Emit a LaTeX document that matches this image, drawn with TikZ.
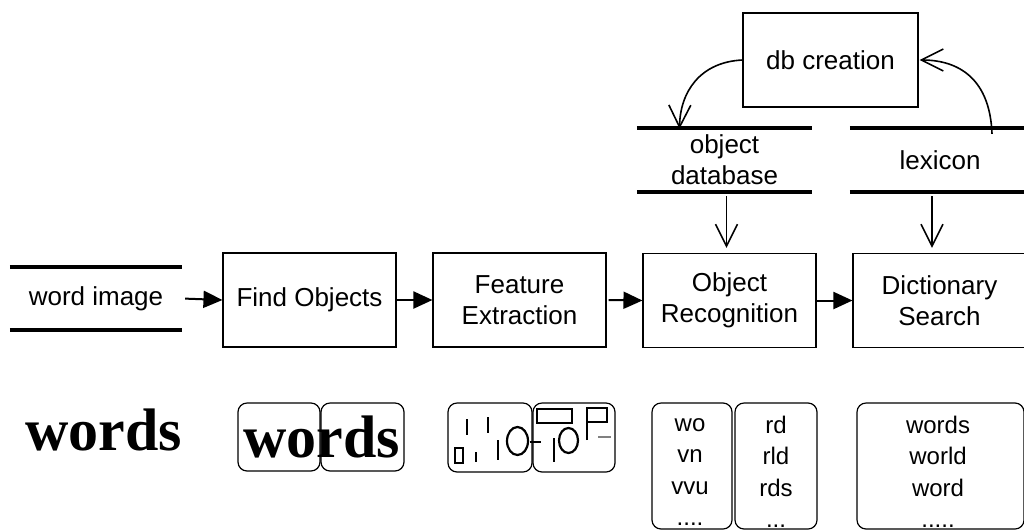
\documentclass[tikz,border=0pt]{standalone}
\usepackage{fontspec}
\setmainfont{Liberation Sans}
\newfontfamily\pixfont{Liberation Serif}
\usetikzlibrary{arrows.meta}
\begin{document}
\begin{tikzpicture}[x=1pt,y=-1pt,
  lbl/.style={font=\fontsize{26}{31}\selectfont, align=center, inner sep=0pt},
  procbox/.style={draw, line width=1.1pt, lbl},
  storebox/.style={lbl},
  storeline/.style={line width=3.5pt},
  flow/.style={line width=2pt, -{Triangle[length=19pt,width=17pt]}},
  feed/.style={line width=1.6pt, -{Straight Barb[length=22pt,width=22pt,line width=1.6pt]}},
  rbox/.style={draw, line width=1.2pt, rounded corners=9pt},
  glyph/.style={line width=2.2pt},
  pix/.style={font=\pixfont\bfseries\fontsize{60}{60}\selectfont, inner sep=0pt, anchor=base},
  cand/.style={lbl, font=\fontsize{24}{31.5}\selectfont}
]
\useasboundingbox (0,0) rectangle (1024,531);
\fill[white] (0,0) rectangle (1024,531);

% data stores
\node[storebox, minimum width=172pt, minimum height=63pt] (wi) at (96,298.5) {word image};
\node[storebox, minimum width=175pt, minimum height=64pt] (od) at (724.5,160) {object\\database};
\node[storebox, minimum width=180pt, minimum height=64pt] (lex) at (940,160) {lexicon};
\foreach \n in {wi,od,lex}{
  \draw[storeline] (\n.north west) -- (\n.north east);
  \draw[storeline] (\n.south west) -- (\n.south east);
}

% process boxes
\node[procbox, minimum width=173pt, minimum height=94pt] (fo) at (309.5,300) {Find Objects};
\node[procbox, minimum width=173pt, minimum height=94pt] (fe) at (519.5,300) {Feature\\Extraction};
\node[procbox, minimum width=173pt, minimum height=94pt] (or) at (729.5,300.5) {Object\\Recognition};
\node[procbox, minimum width=173pt, minimum height=94pt] (ds) at (939.5,300.5) {Dictionary\\Search};
\node[procbox, minimum width=175pt, minimum height=94pt] (db) at (830.5,60) {db creation};

% flow arrows
\draw[flow, shorten <=3pt] (wi.east) -- (fo.west);
\draw[flow] (fo.east) -- (fe.west);
\draw[flow, shorten <=2pt] (fe.east) -- (or.west);
\draw[flow] (or.east) -- (ds.west);
\draw[feed, shorten <=4pt, shorten >=5pt] ([xshift=2pt]od.south) -- ([xshift=2pt]od.south |- or.north);
\draw[feed, shorten <=4pt, shorten >=5pt] ([xshift=-8pt]lex.south) -- ([xshift=-8pt]lex.south |- ds.north);

% curved arrows to/from db creation
\coordinate (odtop) at ([xshift=-45pt]od.north);
\coordinate (lextop) at ([xshift=52pt]lex.north);
\draw[feed] (db.west) .. controls (700,62) and (680,92) .. ([yshift=-1pt]odtop);
\draw[feed, shorten >=1pt] ([yshift=-6pt]lextop) .. controls (990,80) and (960,60) .. (db.east);

% ---- bottom row ----
\node[pix] (w0) at (103.5,450) {words};

\node[rbox, minimum width=82pt, minimum height=68pt] (fo1) at (279,437) {};
\node[rbox, minimum width=83pt, minimum height=68pt] (fo2) at (362.5,437) {};
\node[pix] (w1) at (321.5,457) {words};

\node[rbox, minimum width=84pt, minimum height=69pt] (fe1) at (490,437.5) {};
\node[rbox, minimum width=82pt, minimum height=69pt] (fe2) at (574,437.5) {};
% feature glyphs, box 1
\draw[glyph] (455,448) rectangle (463,463);
\draw[glyph] (467,419) -- (467,435);
\draw[glyph] (476,452) -- (476,462);
\draw[glyph] (488,417) -- (488,433);
\draw[glyph] (498,440) -- (498,460);
\draw[glyph] (517.5,441) ellipse [x radius=10.5, y radius=14];
% feature glyphs, box 2
\draw[glyph] (530,442) -- (541,442);
\draw[glyph] (554,438) -- (554,462);
\draw[glyph] (568.5,440.5) ellipse [x radius=9.5, y radius=12.5];
\draw[glyph] (537,409) rectangle (572,423);
\draw[glyph] (587,440) -- (587,408) -- (607,408) -- (607,422) -- (587,422);
\draw[glyph, gray] (598,437) -- (611,437);

% object recognition candidates
\node[rbox, minimum width=80pt, minimum height=126pt] (or1) at (692,466) {};
\node[rbox, minimum width=82pt, minimum height=126pt] (or2) at (776,466) {};
\node[rbox, minimum width=167pt, minimum height=126pt] (ds1) at (940.5,466) {};
\node[cand] (c1) at (690,472) {wo\\vn\\vvu\\....};
\node[cand] (c2) at (776,472) {rd\\rld\\rds\\...};
\node[cand] (c3) at (938,472) {words\\world\\word\\.....};
\end{tikzpicture}
\end{document}
